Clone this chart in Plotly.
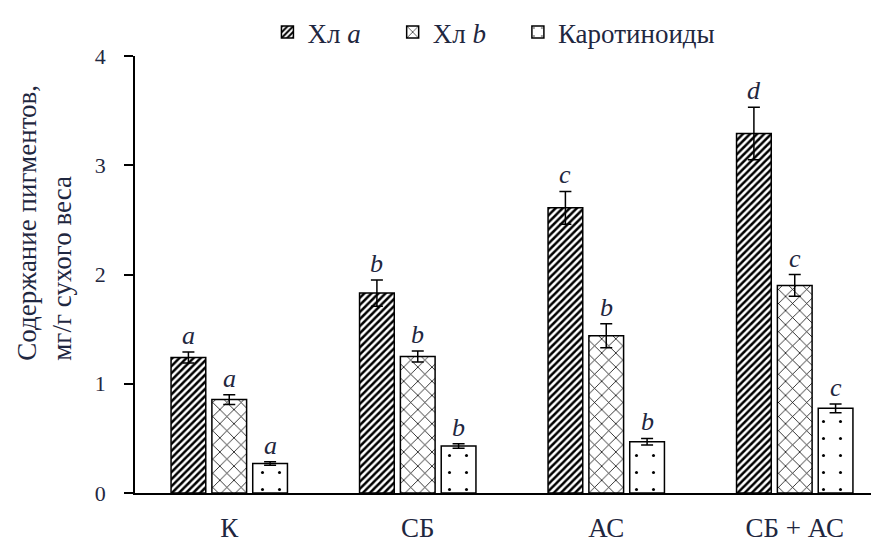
import plotly.graph_objects as go

categories = ["К", "СБ", "АС", "СБ + АС"]
series_names = ["Хл <i>a</i>", "Хл <i>b</i>", "Каротиноиды"]
chl_a = [1.24, 1.83, 2.61, 3.29]
chl_a_err = [0.05, 0.12, 0.15, 0.24]
chl_b = [0.855, 1.25, 1.44, 1.90]
chl_b_err = [0.045, 0.05, 0.11, 0.10]
carot = [0.27, 0.43, 0.47, 0.775]
carot_err = [0.015, 0.02, 0.03, 0.04]
letters_a = ["a", "b", "c", "d"]
letters_b = ["a", "b", "b", "c"]
letters_c = ["a", "b", "b", "c"]
y_ticks = [0, 1, 2, 3, 4]
y_title = "Содержание пигментов,<br>мг/г сухого веса"

FONT = "Liberation Serif"
x = list(range(len(categories)))

patterns = [
    dict(shape="/", fgcolor="black", bgcolor="white", size=5, solidity=0.5, fillmode="replace"),
    dict(shape="x", fgcolor="black", bgcolor="white", size=10, solidity=0.15, fillmode="replace"),
    dict(shape=".", fgcolor="black", bgcolor="white", size=17, solidity=0.025, fillmode="replace"),
]
data = [(chl_a, chl_a_err, letters_a), (chl_b, chl_b_err, letters_b), (carot, carot_err, letters_c)]

fig = go.Figure()
for i, (vals, errs, _) in enumerate(data):
    fig.add_trace(go.Bar(
        x=x, y=vals, name=series_names[i] + ("&nbsp;" * 4 if i < 2 else ""),
        marker=dict(color="white", line=dict(color="black", width=1.5), pattern=patterns[i]),
        error_y=dict(type="data", array=errs, visible=True, color="black", thickness=1.5, width=6),
        offsetgroup=str(i),
    ))

slot = 0.65 / 3
for i, (vals, errs, lets) in enumerate(data):
    for j in range(len(categories)):
        fig.add_annotation(
            x=j + (i - 1) * slot, y=vals[j] + errs[j], text="<i>%s</i>" % lets[j],
            showarrow=False, yanchor="bottom", yshift=0,
            font=dict(family=FONT, size=26, color="#1f2740"),
        )

# y-axis title (left-aligned lines, as in the reference)
fig.add_annotation(
    xref="paper", yref="paper", x=-0.122, y=0.619, text=y_title, textangle=-90,
    showarrow=False, align="left", xanchor="center", yanchor="middle",
    font=dict(family=FONT, size=27, color="#1f2740"),
)

fig.update_layout(
    width=871, height=534,
    margin=dict(l=127, r=0, t=41, b=49),
    paper_bgcolor="white", plot_bgcolor="white",
    barmode="group", bargap=0.35, bargroupgap=0.15,
    font=dict(family=FONT, color="black"),
    showlegend=True,
    legend=dict(orientation="h", x=0.178, xanchor="left", y=1.054, yanchor="middle",
                font=dict(family=FONT, size=27, color="#1f2740"),
                bgcolor="rgba(0,0,0,0)", itemwidth=30),
)
fig.update_xaxes(
    tickmode="array", tickvals=x, ticktext=categories,
    range=[-0.5, 3.447], showline=True, linecolor="black", linewidth=1.5,
    showgrid=False, zeroline=False, ticks="",
    tickfont=dict(family=FONT, size=27, color="#1f2740"), ticklabelstandoff=10,
)
fig.update_yaxes(
    range=[0, 4], tickvals=y_ticks, showline=True, linecolor="black", linewidth=1.5,
    showgrid=False, zeroline=False, ticks="outside", ticklen=9, tickwidth=1.5, tickcolor="black",
    tickfont=dict(family=FONT, size=22, color="#1f2740"), ticklabelstandoff=14,
)
fig.write_html("out.html")
